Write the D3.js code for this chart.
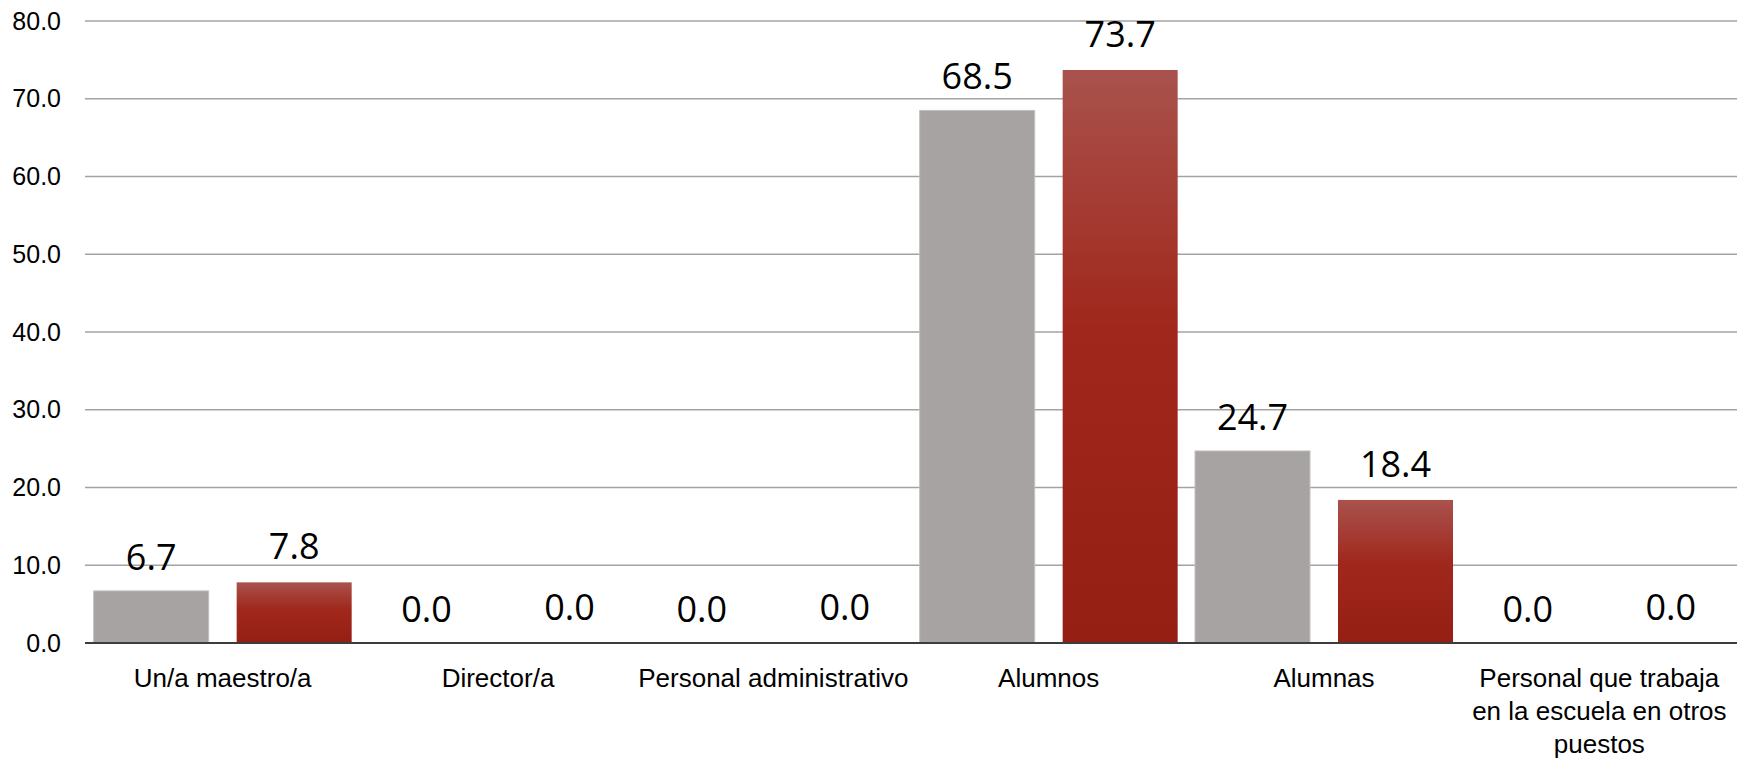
<!DOCTYPE html>
<html>
<head>
<meta charset="utf-8">
<script src="https://cdn.jsdelivr.net/npm/d3@7"></script>
<style>
  html, body { margin: 0; padding: 0; background: #fff; }
  svg { display: block; }
</style>
</head>
<body>
<svg id="chart" width="1746" height="758"></svg>
<script>
const categories = [
  "Un/a maestro/a",
  "Director/a",
  "Personal administrativo",
  "Alumnos",
  "Alumnas",
  "Personal que trabaja\nen la escuela en otros\npuestos"
];
const seriesGray = [6.7, 0.0, 0.0, 68.5, 24.7, 0.0];
const seriesRed  = [7.8, 0.0, 0.0, 73.7, 18.4, 0.0];
const yTicks = [0, 10, 20, 30, 40, 50, 60, 70, 80];

const svg = d3.select("#chart");
const margin = { left: 85, right: 9, top: 21, bottom: 115 };
const W = 1746, H = 758;

const x = d3.scaleBand().domain(d3.range(categories.length))
  .range([margin.left, W - margin.right]).paddingInner(0).paddingOuter(0);
const xs = d3.scaleBand().domain([0, 1]).range([0, x.bandwidth()])
  .paddingInner(28 / 143).paddingOuter(0.0606);
const y = d3.scaleLinear().domain([0, 80]).range([643, 21]);

const defs = svg.append("defs");
const grad = defs.append("linearGradient").attr("id", "redGrad")
  .attr("x1", 0).attr("y1", 0).attr("x2", 0).attr("y2", 1);
grad.append("stop").attr("offset", "0%").attr("stop-color", "#a9524d");
grad.append("stop").attr("offset", "45%").attr("stop-color", "#a0271b");
grad.append("stop").attr("offset", "100%").attr("stop-color", "#951f13");

// gridlines
svg.append("g").selectAll("line").data(yTicks.filter(d => d > 0)).join("line")
  .attr("x1", margin.left).attr("x2", W - margin.right)
  .attr("y1", d => y(d)).attr("y2", d => y(d))
  .attr("stroke", "#a3a3a3").attr("stroke-width", 1.5);

// y axis labels
const yAxis = d3.axisLeft(y).tickValues(yTicks).tickFormat(d3.format(".1f"))
  .tickSize(0).tickPadding(24);
const yg = svg.append("g").attr("transform", `translate(${margin.left},0)`).call(yAxis);
yg.select(".domain").remove();
yg.selectAll("text").attr("font-family", "'Liberation Sans', Arial, sans-serif")
  .attr("font-size", 25).attr("fill", "#000");

const groups = svg.append("g").selectAll("g").data(categories).join("g")
  .attr("transform", (d, i) => `translate(${x(i)},0)`);

// gray bars
groups.append("rect")
  .attr("x", xs(0)).attr("width", xs.bandwidth())
  .attr("y", (d, i) => y(seriesGray[i]))
  .attr("height", (d, i) => y(0) - y(seriesGray[i]))
  .attr("fill", "#a6a3a2").attr("stroke", "#c2c0bf").attr("stroke-width", (d, i) => seriesGray[i] > 0 ? 1 : 0);

// red bars
groups.append("rect")
  .attr("x", xs(1)).attr("width", xs.bandwidth())
  .attr("y", (d, i) => y(seriesRed[i]))
  .attr("height", (d, i) => y(0) - y(seriesRed[i]))
  .attr("fill", "url(#redGrad)");

// baseline
svg.append("line").attr("x1", margin.left).attr("x2", W - margin.right)
  .attr("y1", y(0)).attr("y2", y(0)).attr("stroke", "#3c3c3c").attr("stroke-width", 2);

// value labels
const fmt = d3.format(".1f");
const labelFont = "'Open Sans', 'Noto Sans', sans-serif";
groups.append("text")
  .attr("x", xs(0) + xs.bandwidth() / 2)
  .attr("y", (d, i) => y(seriesGray[i]) - 21)
  .attr("text-anchor", "middle").attr("font-family", labelFont).attr("font-size", 36)
  .attr("fill", "#000").text((d, i) => fmt(seriesGray[i]));
groups.append("text")
  .attr("x", xs(1) + xs.bandwidth() / 2)
  .attr("y", (d, i) => y(seriesRed[i]) - 23)
  .attr("text-anchor", "middle").attr("font-family", labelFont).attr("font-size", 36)
  .attr("fill", "#000").text((d, i) => fmt(seriesRed[i]));

// category labels
groups.append("text")
  .attr("text-anchor", "middle")
  .attr("font-family", "'Liberation Sans', Arial, sans-serif").attr("font-size", 26)
  .attr("fill", "#000")
  .each(function(d) {
    const t = d3.select(this);
    d.split("\n").forEach((line, k) => {
      t.append("tspan").attr("x", x.bandwidth() / 2).attr("y", 687 + k * 33).text(line);
    });
  });
</script>
</body>
</html>
